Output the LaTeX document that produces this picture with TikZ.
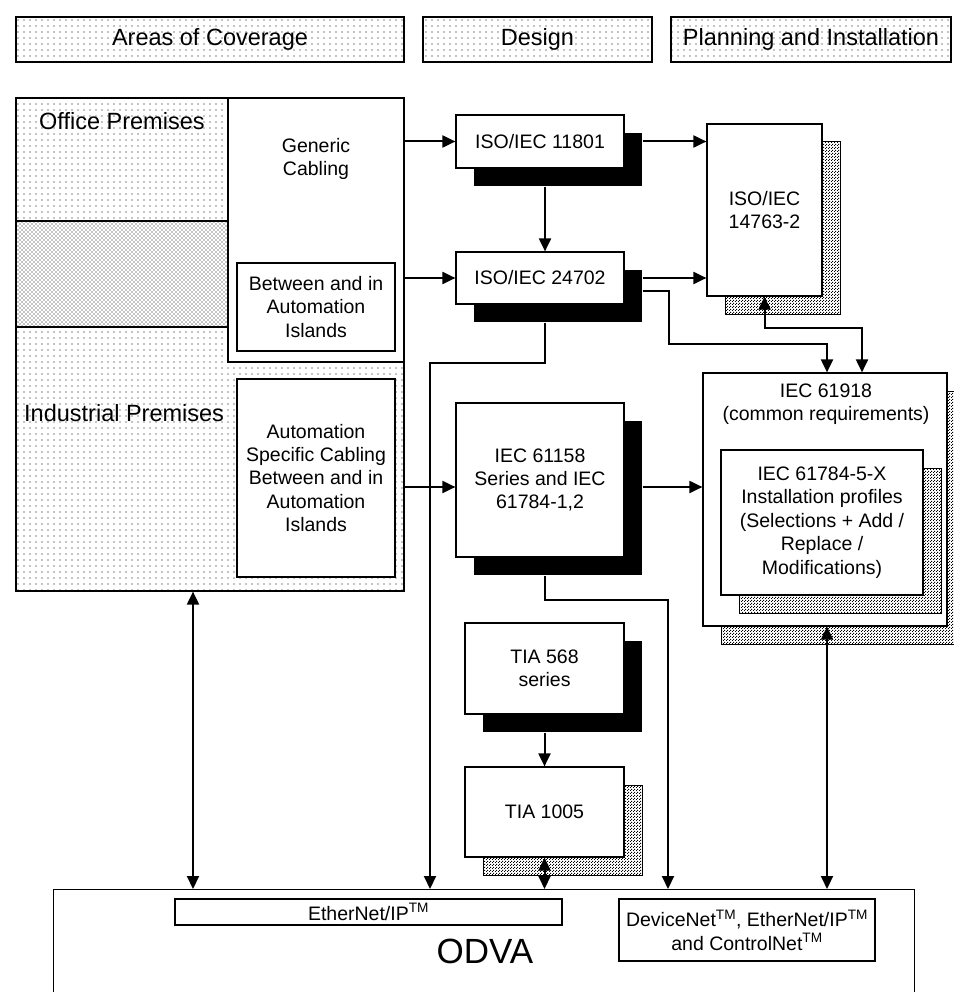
\documentclass[tikz,border=0pt]{standalone}
\usepackage{fontspec}
\setmainfont{Liberation Sans}
\usetikzlibrary{arrows.meta,calc,patterns,shadows}

\pgfdeclarepatternformonly{sparsedots}{\pgfqpoint{-1pt}{-1pt}}{\pgfqpoint{1pt}{1pt}}{\pgfqpoint{6pt}{6pt}}{\pgfpathcircle{\pgfqpoint{0pt}{0pt}}{0.65pt}\pgfusepath{fill}}
\pgfdeclarepatternformonly{mediumdots}{\pgfqpoint{-1pt}{-1pt}}{\pgfqpoint{3pt}{3pt}}{\pgfqpoint{4pt}{4pt}}{\pgfpathcircle{\pgfqpoint{0pt}{0pt}}{0.6pt}\pgfpathcircle{\pgfqpoint{2pt}{2pt}}{0.6pt}\pgfusepath{fill}}
\pgfdeclarepatternformonly{densedots}{\pgfqpoint{0pt}{0pt}}{\pgfqpoint{3pt}{3pt}}{\pgfqpoint{3pt}{3pt}}{\pgfpathrectangle{\pgfqpoint{0pt}{0pt}}{\pgfqpoint{1.3pt}{1.3pt}}\pgfpathrectangle{\pgfqpoint{1.5pt}{1.5pt}}{\pgfqpoint{1.3pt}{1.3pt}}\pgfusepath{fill}}

\tikzset{
  base/.style={font=\fontsize{19.5}{23.4}\selectfont, align=center, inner sep=0pt},
  box/.style={base, draw, line width=1.2pt, fill=white, rectangle},
  lbl/.style={font=\fontsize{23.5}{28}\selectfont, inner sep=0pt},
  hdr/.style={lbl, draw, line width=1.2pt, pattern=sparsedots, minimum height=45pt},
  blackshadow/.style={general shadow={fill=black, shadow xshift=18pt, shadow yshift=-18pt}},
  dotshadow/.style={general shadow={draw=black, line width=1pt, pattern=densedots, shadow xshift=18pt, shadow yshift=-18pt}},
  arr/.style={line width=2pt, -{Triangle[length=13pt,width=12pt]}},
  darr/.style={line width=2pt, {Triangle[length=13pt,width=12pt]}-{Triangle[length=13pt,width=12pt]}},
}

\begin{document}
\begin{tikzpicture}[x=1pt,y=-1pt]
\fill[white] (0,0) rectangle (953,992);
\useasboundingbox (0,0) rectangle (953,992);

% headers
\node[hdr, minimum width=388pt] (hdrA) at (210,39.5) {Areas of Coverage};
\node[hdr, minimum width=229pt] (hdrB) at (537.5,39.5) {Design};
\node[hdr, minimum width=280pt] (hdrC) at (811,39.5) {Planning and Installation};

% premises area
\node[draw, line width=1.2pt, pattern=sparsedots, minimum width=388pt, minimum height=493pt, inner sep=0pt] (premises) at (210,344.5) {};
\node[draw, line width=1.2pt, preaction={fill=white}, pattern=mediumdots, minimum width=212pt, minimum height=106pt, inner sep=0pt] (midband) at (122,274) {};
\node[box, minimum width=176pt, minimum height=264pt] (generic) at (316,230) {};
\node[base] (generictxt) at (316,159) {Generic\\Cabling};
\node[box, minimum width=158pt, minimum height=88pt] (between) at (316,307) {Between and in\\Automation\\Islands};
\node[box, minimum width=158pt, minimum height=198pt] (autospec) at (316,478) {Automation\\Specific Cabling\\Between and in\\Automation\\Islands};
\node[lbl, anchor=west] (officelbl) at (39,121) {Office Premises};
\node[lbl, anchor=west] (induslbl) at (24,413) {Industrial Premises};

% design boxes
\node[box, blackshadow, minimum width=168pt, minimum height=53pt] (iso11801) at (540,141.5) {ISO/IEC 11801};
\node[box, blackshadow, minimum width=168pt, minimum height=52pt] (iso24702) at (540,278) {ISO/IEC 24702};
\node[box, blackshadow, minimum width=168pt, minimum height=154pt] (iec61158) at (540,480) {IEC 61158\\Series and IEC\\61784-1,2};
\node[box, blackshadow, minimum width=159pt, minimum height=91pt] (tia568) at (544.5,668.5) {TIA 568\\series};
\node[box, dotshadow, minimum width=159pt, minimum height=90pt] (tia1005) at (544.5,812) {TIA 1005};

% planning boxes
\node[box, dotshadow, minimum width=115pt, minimum height=172pt] (iso14763) at (764.5,210) {ISO/IEC\\14763-2};
\node[box, dotshadow, minimum width=244pt, minimum height=253pt] (iec61918) at (825,499.5) {};
\node[base] (iec61918txt) at (826,404) {IEC 61918\\(common requirements)};
\node[box, dotshadow, minimum width=202pt, minimum height=145pt] (iec61784) at (822,522.5) {IEC 61784-5-X\\Installation profiles\\(Selections + Add /\\Replace /\\Modifications)};

% ODVA
\node[draw, line width=1.2pt, minimum width=861pt, minimum height=120pt, anchor=north west, inner sep=0pt] (odva) at (53,889) {};
\node[font=\fontsize{35}{42}\selectfont, inner sep=0pt] (odvatxt) at (485,951) {ODVA};
\node[box, minimum width=387pt, minimum height=26pt] (ethip) at (368.5,912) {EtherNet/IP\textsuperscript{TM}};
\node[box, minimum width=256pt, minimum height=62pt] (devnet) at (747,930) {DeviceNet\textsuperscript{TM}, EtherNet/IP\textsuperscript{TM}\\and ControlNet\textsuperscript{TM}};

% helper coordinates
\coordinate (p61158) at ($(iec61158.west)+(0,7)$);
\coordinate (c61918) at ($(iec61918.south)+(2,0)$);
\coordinate (prbot) at ($(premises.south)+(-17,0)$);
\coordinate (odvaA) at ($(odva.north west)+(377,0)$);
\coordinate (odvaB) at ($(odva.north west)+(615,0)$);

% connectors
\draw[arr] (generic.east |- iso11801.west) -- (iso11801.west);
\draw[arr] (generic.east |- iso24702.west) -- (iso24702.west);
\draw[arr] (premises.east |- p61158) -- (p61158);
\draw[arr] ($(iso11801.east)+(18,0)$) -- (iso11801.east -| iso14763.west);
\draw[arr] ($(iso24702.east)+(18,0)$) -- (iso24702.east -| iso14763.west);
\draw[arr] ($(iso11801.south)+(5,18)$) -- ($(iso24702.north)+(5,0)$);
\draw[arr] ($(iso24702.east)+(18,13)$) -- ++(26,0) |- ($(iec61918.north)+(2,-28)$) -- ($(iec61918.north)+(2,0)$);
\draw[darr] (iso14763.south) -- ++(0,31) -| ($(iec61918.north)+(37,0)$);
\draw[arr] ($(iso24702.south)+(5,18)$) -- ++(0,40) -| (odvaA);
\draw[arr] ($(iec61158.east)+(18,7)$) -- (p61158 -| iec61918.west);
\draw[arr] ($(iec61158.south)+(5,18)$) -- ++(0,24) -| (odvaB);
\draw[arr] ($(tia568.south)+(0,18)$) -- (tia1005.north);
\draw[darr] (tia1005.south) -- (tia1005.south |- odva.north);
\draw[darr] (c61918) -- (c61918 |- odva.north);
\draw[darr] (prbot) -- (prbot |- odva.north);
\end{tikzpicture}
\end{document}
